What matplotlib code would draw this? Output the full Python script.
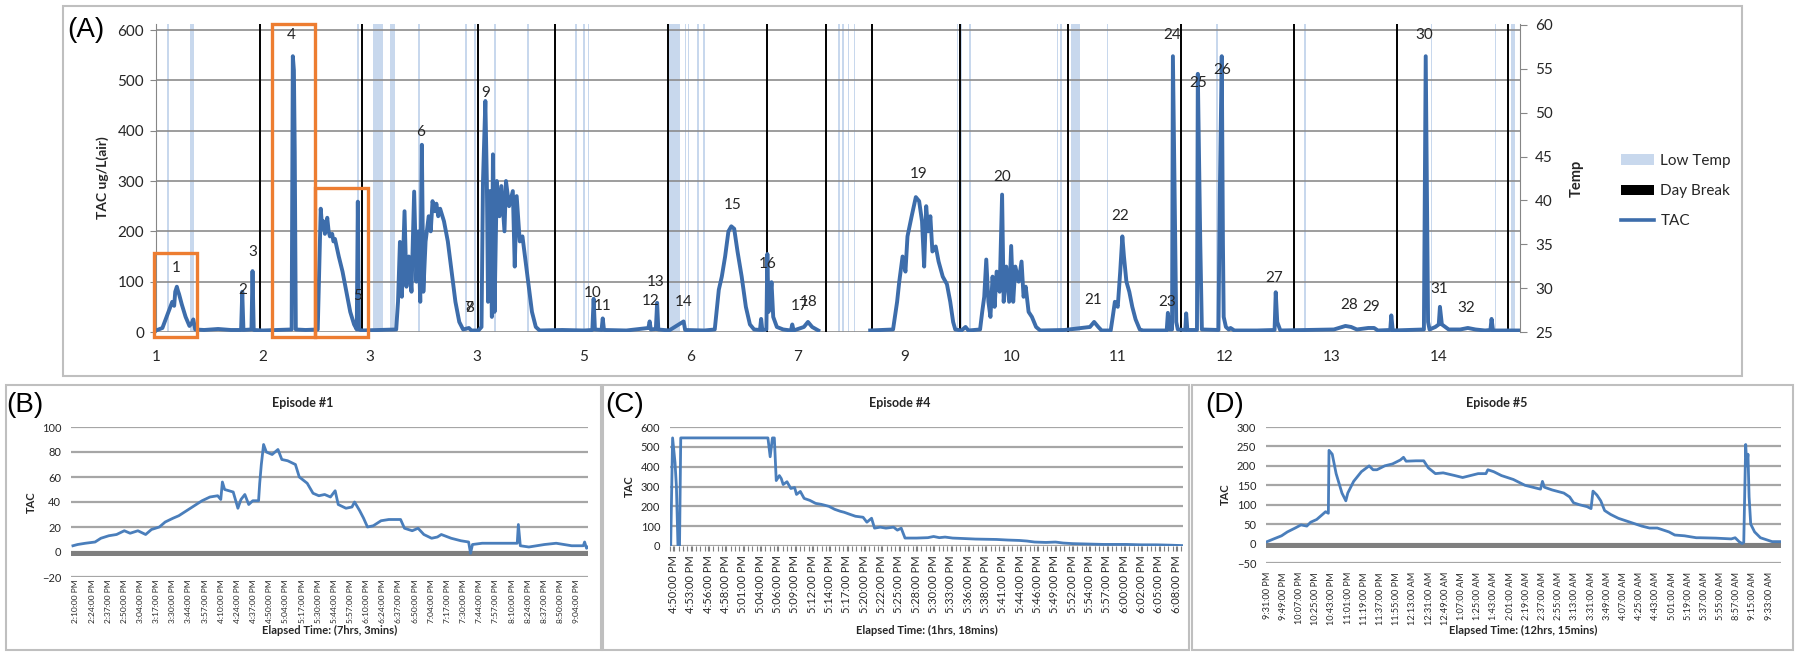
import numpy as np
import matplotlib
matplotlib.use("Agg")
import matplotlib.pyplot as plt
from matplotlib.patches import Rectangle, Patch
from matplotlib.lines import Line2D

plt.rcParams["font.family"] = ["Lato", "DejaVu Sans"]

#------------------------------ data: panel A --------------------------
day_ticks = ["1", "2", "3", "3", "5", "6", "7", "9", "10", "11", "12", "13", "14"]

# TAC trace over the whole study (x in day units, NaN = missing data)
tac_day = [0.00, 0.06, 0.116, 0.152, 0.17, 0.180, 0.195, 0.205, 0.216, 0.241, 0.277, 0.313, 0.335, 0.349, 0.367,
           0.45, 0.581, 0.70, 0.796, 0.807, 0.818, 0.893, 0.903, 0.914, 1.0, 1.269, 1.280, 1.290, 1.298, 1.308,
           1.40, 1.513, 1.541, 1.555, 1.566, 1.58, 1.602, 1.615, 1.627, 1.648, 1.660, 1.674, 1.710, 1.745, 1.781,
           1.817, 1.853, 1.878, 1.888, 1.899, 1.924, 2.1, 2.247, 2.264, 2.282, 2.300, 2.325, 2.343, 2.365, 2.390,
           2.415, 2.436, 2.454, 2.472, 2.487, 2.501, 2.522, 2.551, 2.570, 2.587, 2.605, 2.623, 2.640, 2.658, 2.694,
           2.730, 2.765, 2.801, 2.837, 2.873, 2.927, 2.95, 3.016, 3.045, 3.059, 3.081, 3.095, 3.106, 3.124, 3.142,
           3.152, 3.167, 3.188, 3.213, 3.231, 3.260, 3.274, 3.303, 3.338, 3.356, 3.374, 3.403, 3.428, 3.446, 3.482,
           3.517, 3.553, 3.589, 3.8, 4.005, 4.082, 4.094, 4.106, 4.168, 4.179, 4.191, 4.4, 4.606, 4.618, 4.629,
           4.676, 4.688, 4.699, 4.8, 4.936, 4.95, 5.130, 5.227, 5.265, 5.293, 5.324, 5.355, 5.382, 5.409, 5.440,
           5.479, 5.518, 5.556, 5.595, 5.65, 5.661, 5.672, 5.710, 5.719, 5.730, 5.743, 5.758, 5.774, 5.808, 5.867,
           5.940, 5.952, 5.965, 6.061, 6.099, 6.138, 6.196, np.nan, 6.681, 6.895, 6.933, 6.953, 6.984, 7.011, 7.030,
           7.069, 7.108, 7.139, 7.166, 7.186, 7.205, 7.224, 7.244, 7.263, 7.294, 7.321, 7.360, 7.399, 7.430, 7.457,
           7.477, 7.535, 7.573, 7.60, 7.709, 7.729, 7.748, 7.767, 7.787, 7.806, 7.826, 7.845, 7.864, 7.892, 7.915,
           7.930, 7.954, 7.981, 8.000, 8.019, 8.039, 8.070, 8.097, 8.116, 8.136, 8.163, 8.194, 8.233, 8.272, 8.5,
           8.737, 8.776, 8.815, 8.846, 8.931, 8.950, 8.970, 8.997, 9.020, 9.040, 9.055, 9.078, 9.105, 9.133, 9.164,
           9.203, 9.234, 9.455, 9.466, 9.482, 9.505, 9.513, 9.528, 9.544, 9.559, 9.629, 9.637, 9.648, 9.738, 9.746,
           9.769, 9.784, 9.939, 9.952, 9.970, 9.981, 9.988, 10.009, 10.035, 10.052, 10.088, 10.3, 10.464, 10.475,
           10.489, 10.518, 11.019, 11.127, 11.180, 11.234, 11.341, 11.395, 11.431, 11.546, 11.556, 11.570, 11.861,
           11.878, 11.900, 11.914, 11.968, 12.000, 12.011, 12.029, 12.093, 12.201, 12.272, 12.344, 12.433, 12.483,
           12.494, 12.508, 12.766]
tac_val = [3, 8, 40, 60, 52, 80, 90, 82, 75, 55, 30, 12, 18, 25, 5,
           4, 6, 4, 4, 80, 4, 5, 121, 4, 3, 5, 548, 520, 357, 5,
           4, 5, 245, 205, 220, 195, 227, 200, 190, 195, 180, 185, 150, 120, 80,
           40, 15, 5, 259, 5, 3, 4, 5, 60, 179, 70, 240, 90, 150, 80,
           279, 100, 200, 60, 372, 80, 180, 230, 200, 260, 240, 255, 230, 245, 220,
           180, 120, 60, 20, 5, 8, 3, 3, 10, 300, 459, 300, 60, 280, 30,
           353, 40, 300, 230, 290, 200, 300, 250, 280, 130, 270, 180, 190, 160, 100,
           40, 10, 3, 4, 3, 4, 66, 5, 4, 27, 4, 3, 8, 21, 5,
           6, 58, 5, 3, 21, 4, 3, 5, 84, 110, 150, 200, 210, 205, 160,
           110, 50, 15, 5, 4, 26, 4, 5, 155, 40, 60, 99, 30, 10, 5,
           3, 15, 3, 10, 20, 10, 3, np.nan, 3, 5, 60, 100, 150, 120, 190,
           230, 268, 260, 220, 130, 250, 200, 230, 160, 170, 140, 110, 95, 60, 20,
           5, 3, 10, 3, 5, 40, 70, 144, 60, 30, 110, 50, 120, 80, 273,
           60, 130, 60, 171, 60, 130, 100, 140, 70, 90, 40, 30, 10, 3, 4,
           10, 20, 10, 3, 3, 30, 60, 50, 120, 190, 150, 100, 80, 50, 25,
           5, 3, 3, 38, 5, 5, 548, 290, 20, 5, 4, 37, 4, 4, 513,
           177, 5, 4, 277, 548, 175, 30, 10, 5, 8, 3, 3, 4, 79,
           20, 3, 5, 12, 10, 5, 8, 8, 3, 4, 33, 3, 5,
           548, 20, 5, 10, 15, 50, 15, 5, 5, 8, 5, 3, 4,
           26, 3, 3]

day_breaks = [0.0, 0.97, 1.93, 3.01, 3.73, 4.79, 5.72, 6.27, 6.70, 7.52, 8.53, 9.59, 10.65, 11.61, 12.65]

low_temp_start = [0.105, 0.322, 1.880, 2.030, 2.190, 2.452, 2.895, 2.973, 3.162, 3.474, 3.922, 3.993, 4.038,
                  4.790, 4.948, 4.975, 5.065, 5.115, 6.383, 6.422, 6.473, 6.527, 7.489, 7.528, 7.603, 8.428,
                  8.459, 8.560, 8.893, 9.918, 10.744, 11.925, 12.523, 12.677, 12.696]
low_temp_end = [0.125, 0.352, 1.897, 2.125, 2.238, 2.470, 2.910, 2.990, 3.178, 3.490, 3.938, 4.010, 4.052,
                4.900, 4.962, 4.990, 5.080, 5.132, 6.397, 6.436, 6.487, 6.541, 7.503, 7.542, 7.620, 8.442,
                8.473, 8.645, 8.907, 9.936, 10.758, 11.939, 12.537, 12.691, 12.710]

episode_num = list(range(1, 33))
episode_day = [0.188, 0.807, 0.903, 1.269, 1.888, 2.479, 2.927, 2.935, 3.081, 4.082, 4.179, 4.625, 4.676, 4.936,
               5.393, 5.719, 6.022, 6.107, 7.131, 7.915, 8.764, 9.020, 9.455, 9.505, 9.746, 9.970, 10.464,
               11.162, 11.370, 11.868, 12.004, 12.261]
episode_lab_y = [127, 84, 159, 590, 72, 398, 48, 48, 475, 78, 51, 61, 99, 59, 252, 135, 51, 59, 313, 307, 64,
                 230, 59, 590, 494, 521, 108, 54, 50, 590, 86, 48]

# highlighted episodes (x range in days, top in TAC)
box_start = [-0.016, 1.083, 1.484]
box_end = [0.385, 1.484, 1.985]
box_top = [157, 612, 286]

#------------------------------ data: panels B-D -----------------------
ep1_labels = ["2:10:00 PM", "2:24:00 PM", "2:37:00 PM", "2:50:00 PM", "3:04:00 PM", "3:17:00 PM", "3:30:00 PM",
              "3:44:00 PM", "3:57:00 PM", "4:10:00 PM", "4:24:00 PM", "4:37:00 PM", "4:50:00 PM", "5:04:00 PM",
              "5:17:00 PM", "5:30:00 PM", "5:44:00 PM", "5:57:00 PM", "6:10:00 PM", "6:24:00 PM", "6:37:00 PM",
              "6:50:00 PM", "7:04:00 PM", "7:17:00 PM", "7:30:00 PM", "7:44:00 PM", "7:57:00 PM", "8:10:00 PM",
              "8:24:00 PM", "8:37:00 PM", "8:50:00 PM", "9:04:00 PM"]
ep1_t = [0.12, 0.41, 0.89, 1.49, 1.85, 2.34, 2.82, 3.30, 3.66, 4.14, 4.62, 4.98, 5.47, 5.83, 6.31, 6.67, 7.15,
         7.63, 8.11, 8.60, 9.08, 9.27, 9.37, 9.51, 10.04, 10.33, 10.52, 10.76, 11.00, 11.25, 11.61, 11.68, 11.78,
         11.92, 12.09, 12.45, 12.81, 13.05, 13.41, 13.89, 14.13, 14.62, 14.98, 15.34, 15.70, 16.06, 16.35, 16.54,
         17.02, 17.39, 17.55, 17.87, 18.11, 18.35, 18.71, 19.19, 19.67, 20.40, 20.64, 21.12, 21.48, 21.84, 22.32,
         22.68, 22.92, 23.53, 24.13, 24.61, 24.73, 24.85, 25.45, 26.42, 27.62, 27.69, 27.81, 28.34, 29.31, 30.03,
         30.99, 31.71, 31.79, 31.91, 32.00]
ep1_tac = [5, 6, 7, 8, 11, 13, 14, 17, 15, 17, 14, 18, 20, 24, 27, 29, 33, 37, 41, 44, 45, 42, 56, 50, 48, 35,
           42, 46, 38, 41, 41, 55, 70, 86, 80, 78, 82, 74, 73, 70, 60, 55, 47, 45, 46, 44, 49, 38, 35, 36, 40, 33,
           27, 20, 21, 25, 26, 26, 19, 17, 19, 14, 11, 12, 14, 11, 9, 8, -1, 6, 7, 7, 7, 22, 5, 4, 6, 7, 5, 5, 8,
           3, 4]

ep4_labels = ["4:50:00 PM", "4:53:00 PM", "4:56:00 PM", "4:58:00 PM", "5:01:00 PM", "5:04:00 PM", "5:06:00 PM",
              "5:09:00 PM", "5:12:00 PM", "5:14:00 PM", "5:17:00 PM", "5:20:00 PM", "5:22:00 PM", "5:25:00 PM",
              "5:28:00 PM", "5:30:00 PM", "5:33:00 PM", "5:36:00 PM", "5:38:00 PM", "5:41:00 PM", "5:44:00 PM",
              "5:46:00 PM", "5:49:00 PM", "5:52:00 PM", "5:54:00 PM", "5:57:00 PM", "6:00:00 PM", "6:02:00 PM",
              "6:05:00 PM", "6:08:00 PM"]
ep4_t = [0.04, 0.15, 0.29, 0.37, 0.46, 0.55, 0.62, 5.65, 5.78, 5.91, 6.02, 6.13, 6.31, 6.42, 6.53, 6.75, 6.97,
         7.19, 7.30, 7.52, 7.74, 8.07, 8.40, 8.73, 9.17, 9.50, 9.83, 10.05, 10.37, 10.70, 11.14, 11.36, 11.63,
         11.80, 12.13, 12.46, 12.90, 13.12, 13.34, 13.56, 14.22, 14.88, 15.21, 15.54, 15.87, 16.31, 16.86, 17.63,
         18.84, 19.50, 20.16, 20.60, 21.04, 21.69, 22.24, 22.68, 23.23, 24.11, 24.99, 26.31, 27.19, 28.07, 28.95,
         29.56]
ep4_tac = [0, 545, 420, 300, 0, 0, 545, 545, 450, 545, 545, 330, 355, 340, 310, 324, 290, 295, 260, 275, 240,
           230, 215, 210, 200, 185, 175, 170, 160, 150, 145, 120, 140, 90, 95, 90, 95, 80, 90, 40, 40, 42, 48,
           42, 45, 40, 38, 35, 33, 30, 28, 25, 20, 18, 20, 15, 12, 10, 8, 8, 6, 6, 4, 2]

ep5_labels = ["9:31:00 PM", "9:49:00 PM", "10:07:00 PM", "10:25:00 PM", "10:43:00 PM", "11:01:00 PM",
              "11:19:00 PM", "11:37:00 PM", "11:55:00 PM", "12:13:00 AM", "12:31:00 AM", "12:49:00 AM",
              "1:07:00 AM", "1:25:00 AM", "1:43:00 AM", "2:01:00 AM", "2:19:00 AM", "2:37:00 AM", "2:55:00 AM",
              "3:13:00 AM", "3:31:00 AM", "3:49:00 AM", "4:07:00 AM", "4:25:00 AM", "4:43:00 AM", "5:01:00 AM",
              "5:19:00 AM", "5:37:00 AM", "5:55:00 AM", "8:57:00 AM", "9:15:00 AM", "9:33:00 AM"]
ep5_t = [0.07, 0.48, 0.96, 1.32, 1.80, 2.16, 2.52, 2.76, 3.13, 3.49, 3.68, 3.85, 3.89, 4.09, 4.33, 4.69, 4.93,
         5.05, 5.41, 5.89, 6.37, 6.61, 6.85, 7.33, 7.81, 8.29, 8.49, 8.65, 9.26, 9.74, 10.02, 10.46, 10.94,
         11.66, 12.14, 12.62, 13.10, 13.58, 13.70, 14.06, 14.54, 15.27, 15.99, 16.47, 16.95, 17.07, 17.19, 17.67,
         18.39, 18.75, 18.99, 19.35, 19.83, 20.07, 20.19, 20.43, 20.67, 20.91, 21.28, 21.76, 22.48, 23.20, 23.68,
         24.16, 24.52, 24.88, 25.24, 25.84, 26.57, 26.80, 27.77, 28.73, 28.97, 29.21, 29.40, 29.50, 29.62, 29.69,
         29.76, 29.83, 29.93, 30.17, 30.53, 30.89, 31.25, 31.80]
ep5_tac = [5, 12, 20, 30, 40, 48, 45, 55, 62, 75, 82, 78, 240, 230, 180, 130, 110, 130, 160, 185, 200, 190, 190,
           200, 205, 215, 222, 212, 213, 213, 195, 180, 182, 175, 170, 175, 180, 180, 190, 185, 175, 165, 150, 145,
           140, 160, 145, 138, 130, 120, 105, 100, 95, 90, 135, 125, 110, 85, 75, 65, 55, 45, 40, 40, 35, 30, 22,
           20, 15, 15, 14, 12, 15, 5, 0, 3, 255, 200, 230, 120, 50, 30, 15, 10, 5, 5]

#------------------------------ figure ---------------------------------
W, H = 1800, 657
fig = plt.figure(figsize=(W / 100, H / 100), dpi=100)

def px_axes(l, t, r, b):
    return fig.add_axes([l / W, 1 - b / H, (r - l) / W, (b - t) / H])

def frame(l, t, r, b):
    fig.add_artist(Rectangle((l / W, 1 - b / H), (r - l) / W, (b - t) / H, transform=fig.transFigure,
                             fill=False, ec="#bfbfbf", lw=1.5))

def ftext(x, y, s, **kw):
    fig.text(x / W, 1 - y / H, s, **kw)

frame(63, 6, 1742, 376)
frame(6, 385, 601, 650)
frame(603, 385, 1189, 650)
frame(1192, 385, 1793, 650)

TXT = "#262626"
LOWC = "#c8d8ed"
TACC = "#3d6dab"

#------------------------------ panel A --------------------------------
ax = px_axes(156, 24, 1520, 332)
ax.set_xlim(0, 12.76)
ax.set_ylim(0, 612)
ax.set_axisbelow(True)
for s, e in zip(low_temp_start, low_temp_end):
    ax.axvspan(s, e, color=LOWC, lw=0, zorder=0.2)
ax.set_yticks(range(0, 601, 100))
ax.yaxis.grid(True, color="#8c8c8c", lw=1.2)
for d in day_breaks:
    ax.axvline(d, color="black", lw=1.4, zorder=1.5)
ax.plot(tac_day, tac_val, color=TACC, lw=2.8, zorder=3)
for n, u, v in zip(episode_num, episode_day, episode_lab_y):
    ax.text(u, v, str(n), ha="center", va="center", fontsize=11, color=TXT, zorder=4)
for s, e, top in zip(box_start, box_end, box_top):
    ax.add_patch(Rectangle((s, -9), e - s, top + 9, fill=False, ec="#ed7d31", lw=2.4, clip_on=False, zorder=5))
ax.set_xticks(range(len(day_ticks)))
ax.set_xticklabels(day_ticks)
ax.tick_params(axis="x", length=0, pad=13, labelsize=11, labelcolor=TXT)
ax.tick_params(axis="y", length=4.5, color="#868686", pad=4, labelsize=11, labelcolor=TXT)
for sp in ["top", "right", "bottom"]:
    ax.spines[sp].set_visible(False)
ax.spines["left"].set_color("#868686")
ax.set_ylabel("TAC ug/L(air)", fontsize=10, fontweight="bold", color=TXT, labelpad=6)

ax2 = ax.twinx()
ax2.set_ylim(25, 60.1)
ax2.set_yticks(range(25, 61, 5))
ax2.tick_params(axis="y", length=5, color="#868686", pad=6, labelsize=11, labelcolor=TXT)
for sp in ["top", "left", "bottom"]:
    ax2.spines[sp].set_visible(False)
ax2.spines["right"].set_color("#868686")
ax2.set_ylabel("Temp", fontsize=10.5, fontweight="bold", color=TXT, labelpad=12)

handles = [Patch(facecolor=LOWC, edgecolor="none"), Patch(facecolor="black", edgecolor="none"),
           Line2D([], [], color=TACC, lw=2.6)]
fig.legend(handles, ["Low Temp", "Day Break", "TAC"], loc="center left", bbox_to_anchor=(1607 / W, 1 - 191 / H),
           frameon=False, fontsize=11, labelspacing=1.05, handlelength=2.2, handleheight=0.65,
           handletextpad=0.4, labelcolor=TXT)

ftext(86, 30, "(A)", fontsize=20, family="Liberation Sans", ha="center", va="center")

#------------------------------ panels B-D -----------------------------
def episode_panel(box, t, tac, labels, lab_off, xmax, ylim, ystep, band, pad, lsize):
    a = px_axes(*box)
    a.set_xlim(0, xmax)
    a.set_ylim(*ylim)
    a.set_axisbelow(True)
    a.set_yticks(np.arange(ylim[0], ylim[1] + 1, ystep))
    a.yaxis.grid(True, color="#a6a6a6", lw=1.6)
    if band is not None:
        a.axhspan(band, 1, color="#7f7f7f", lw=0, zorder=1)
    a.plot(t, tac, color="#4a7ebb", lw=2.0, zorder=3)
    a.set_xticks([i + lab_off for i in range(len(labels))])
    a.set_xticklabels(labels, rotation=90, fontsize=lsize)
    a.tick_params(axis="x", length=0, pad=pad, labelcolor=TXT)
    a.tick_params(axis="y", length=0, pad=7, labelsize=8, labelcolor=TXT)
    for sp in a.spines.values():
        sp.set_visible(False)
    return a

axB = episode_panel((71, 427, 588, 577), ep1_t, ep1_tac, ep1_labels, 0.3, 32, (-20, 100), 20, -3.5, 2, 6.0)
axC = episode_panel((670, 427, 1183, 546), ep4_t, ep4_tac, ep4_labels, 0.2, 29.6, (0, 600), 100, None, 3, 8.0)
axC.set_xticks(np.arange(0, 29.6, 0.25), minor=True)
axC.tick_params(axis="x", which="both", length=3.5, color="#7f7f7f", width=0.8)
axD = episode_panel((1266, 427, 1781, 563), ep5_t, ep5_tac, ep5_labels, 0.07, 31.8, (-50, 300), 50, -11, 6.5, 6.6)

for x, s in [(303, "Episode #1"), (900, "Episode #4"), (1497, "Episode #5")]:
    ftext(x, 403, s, fontsize=9, fontweight="bold", ha="center", va="center", color=TXT)
for x, s in [(330, "Elapsed Time: (7hrs, 3mins)"), (927, "Elapsed Time: (1hrs, 18mins)"),
             (1523, "Elapsed Time: (12hrs, 15mins)")]:
    ftext(x, 630, s, fontsize=8, fontweight="bold", ha="center", va="center", color=TXT)
for x, y in [(31, 502), (629, 486), (1225, 494)]:
    ftext(x, y, "TAC", fontsize=8, fontweight="bold", rotation=90, ha="center", va="center", color=TXT)
for x, s in [(25, "(B)"), (625, "(C)"), (1225, "(D)")]:
    ftext(x, 405, s, fontsize=20, family="Liberation Sans", ha="center", va="center")

fig.savefig("out.png", dpi=100)
